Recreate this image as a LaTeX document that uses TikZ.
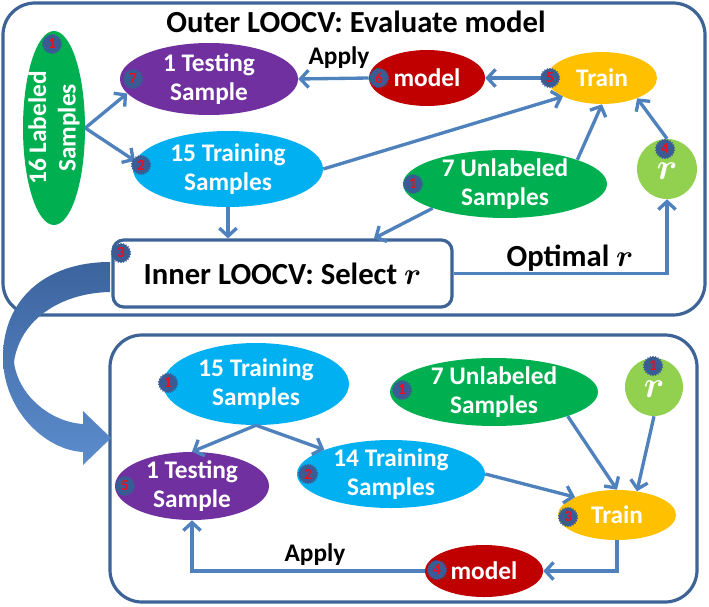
\RequirePackage{fix-cm}
\documentclass[tikz,border=0pt]{standalone}
\usepackage{fontspec}
\setmainfont{Carlito}
\usepackage{amsmath}
\usetikzlibrary{arrows.meta, positioning, shapes.geometric}
\definecolor{frameblue}{RGB}{62,99,150}
\definecolor{arrblue}{RGB}{79,129,189}
\definecolor{badgeblue}{RGB}{58,92,148}
\definecolor{badgered}{RGB}{232,16,32}
\definecolor{bendtop}{RGB}{60,100,158}
\definecolor{bendbot}{RGB}{92,140,205}
\definecolor{mgreen}{RGB}{0,176,80}
\definecolor{mpurple}{RGB}{112,48,160}
\definecolor{mcyan}{RGB}{0,176,240}
\definecolor{mred}{RGB}{192,0,0}
\definecolor{morange}{RGB}{255,192,0}
\definecolor{mlime}{RGB}{146,208,80}
\newcommand{\symr}{\ensuremath{\boldsymbol{r}}}

\begin{document}
\begin{tikzpicture}[x=0.75pt, y=-0.75pt,
  ell/.style 2 args={ellipse, inner sep=0pt, minimum width=#1*0.75pt, minimum height=#2*0.75pt},
  txt/.style={text=white, align=center, inner sep=0pt, font=\bfseries\fontsize{19}{22}\selectfont},
  rtxt/.style={text=white, inner sep=0pt, font=\fontsize{28}{28}\selectfont},
  badge/.style={star, star points=22, star point ratio=1.18, fill=badgeblue, inner sep=0pt,
                minimum size=15.5pt, text=badgered, font=\bfseries\fontsize{11.5}{11.5}\selectfont},
  arr/.style={-{Straight Barb[length=6pt,width=13pt]}, line width=2.5pt, arrblue},
  panel/.style={draw=frameblue, line width=2.4pt, rounded corners=24pt},
  lbl/.style={font=\bfseries\fontsize{19}{22}\selectfont},
  head/.style={font=\bfseries\fontsize{23}{26}\selectfont}
]
\useasboundingbox (0,0) rectangle (709,606);
\draw[panel] (3,3) rectangle (705,315);
\draw[panel] (110,335) rectangle (697,602);
\shade[top color=bendtop, bottom color=bendbot] (110,262) .. controls (45,262) and (3,300) .. (3,357)
  .. controls (3,410) and (45,450) .. (83,452) -- (83,465) -- (111,438) -- (83,411) -- (83,424)
  .. controls (50,422) and (18,395) .. (14,362) .. controls (20,320) and (60,293) .. (110,292) -- cycle;

\node[head, anchor=base] (outerT) at (356,33) {Outer LOOCV: Evaluate model};
\node[draw=frameblue, fill=white, line width=2.4pt, rounded corners=8pt, minimum width=339*0.75pt,
      minimum height=67*0.75pt, head] (inner) at (282.5,273.5) {Inner LOOCV: Select \symr};

\node[ell={62}{194}, fill=mgreen, label={[txt, rotate=90]center:16 Labeled\\Samples}] (lab) at (54,128) {};
\node[ell={178}{72}, fill=mpurple, label={[txt]center:1 Testing\\Sample}] (test1) at (209,79) {};
\node[ell={190}{76}, fill=mcyan, label={[txt]center:15 Training\\Samples}] (train1) at (228,169) {};
\node[ell={116}{56}, fill=mred, label={[txt]center:model}] (model1) at (427,78) {};
\node[ell={110}{52}, fill=morange, label={[txt]center:Train}] (trainT) at (602,78) {};
\node[ell={204}{68}, fill=mgreen, label={[txt]center:7 Unlabeled\\Samples}] (unl1) at (505,184) {};
\node[circle, inner sep=0pt, minimum size=60*0.75pt, fill=mlime, label={[rtxt, yshift=-2pt]center:\symr}] (rC) at (667,169) {};
\node[lbl] (apply1) at (339,58) {Apply};
\node[head] (optr) at (570,258) {Optimal \symr};

\draw[arr] (lab.east) -- (test1.190);
\draw[arr] (lab.east) -- (train1.175);
\draw[arr] (train1.south) -- (inner.north -| train1.south);
\draw[arr] (train1.east) -- (trainT.south west);
\draw[arr] (unl1.north east) -- (trainT.south);
\draw[arr] (unl1.south west) -- (inner.21);
\draw[arr] (rC.north) -- (trainT.330);
\draw[arr] (trainT.west) -- (model1.east);
\draw[arr] (model1.west) -- (test1.east);
\draw[arr] (inner.east) -| (rC.south);

\node[ell={186}{82}, fill=mcyan, label={[txt]center:15 Training\\Samples}] (train2) at (256,384) {};
\node[ell={154}{68}, fill=mpurple, label={[txt]center:1 Testing\\Sample}] (test2) at (192,486) {};
\node[ell={188}{68}, fill=mcyan, label={[txt]center:14 Training\\Samples}] (train3) at (391,474) {};
\node[ell={208}{68}, fill=mgreen, label={[txt]center:7 Unlabeled\\Samples}] (unl2) at (494,392) {};
\node[circle, inner sep=0pt, minimum size=58*0.75pt, fill=mlime, label={[rtxt, yshift=-2pt]center:\symr}] (rC2) at (654,387) {};
\node[ell={118}{50}, fill=morange, label={[txt]center:Train}] (trainT2) at (617,515) {};
\node[ell={118}{52}, fill=mred, label={[txt]center:model}] (model2) at (484,571) {};
\node[lbl] (apply2) at (315,555) {Apply};

\draw[arr] (train2.south) -- (test2.north);
\draw[arr] (train2.south) -- (train3.north west);
\draw[arr] (train3.east) -- (trainT2.north west);
\draw[arr] (unl2.south east) -- (trainT2.north);
\draw[arr] (rC2.south) -- (trainT2.50);
\draw[arr] (trainT2.south) |- (model2.east);
\draw[arr] (model2.west) -| (test2.south);

\node[badge] (b1) at (52,44) {1};
\node[badge] (b7) at (133,79) {7};
\node[badge] (b2) at (141,165) {2};
\node[badge] (b6) at (379,78) {6};
\node[badge] (b5) at (550,78) {5};
\node[badge] (b1u) at (413,184) {1};
\node[badge] (b4) at (665,149) {4};
\node[badge] (b3) at (121,253) {3};
\node[badge] (c1) at (168,383) {1};
\node[badge] (c5) at (125,486) {5};
\node[badge] (c2) at (308,474) {2};
\node[badge] (c1u) at (402,390) {1};
\node[badge] (c1r) at (653,366) {1};
\node[badge] (c3) at (568,517) {3};
\node[badge] (c4) at (437,570) {4};
\end{tikzpicture}
\end{document}
